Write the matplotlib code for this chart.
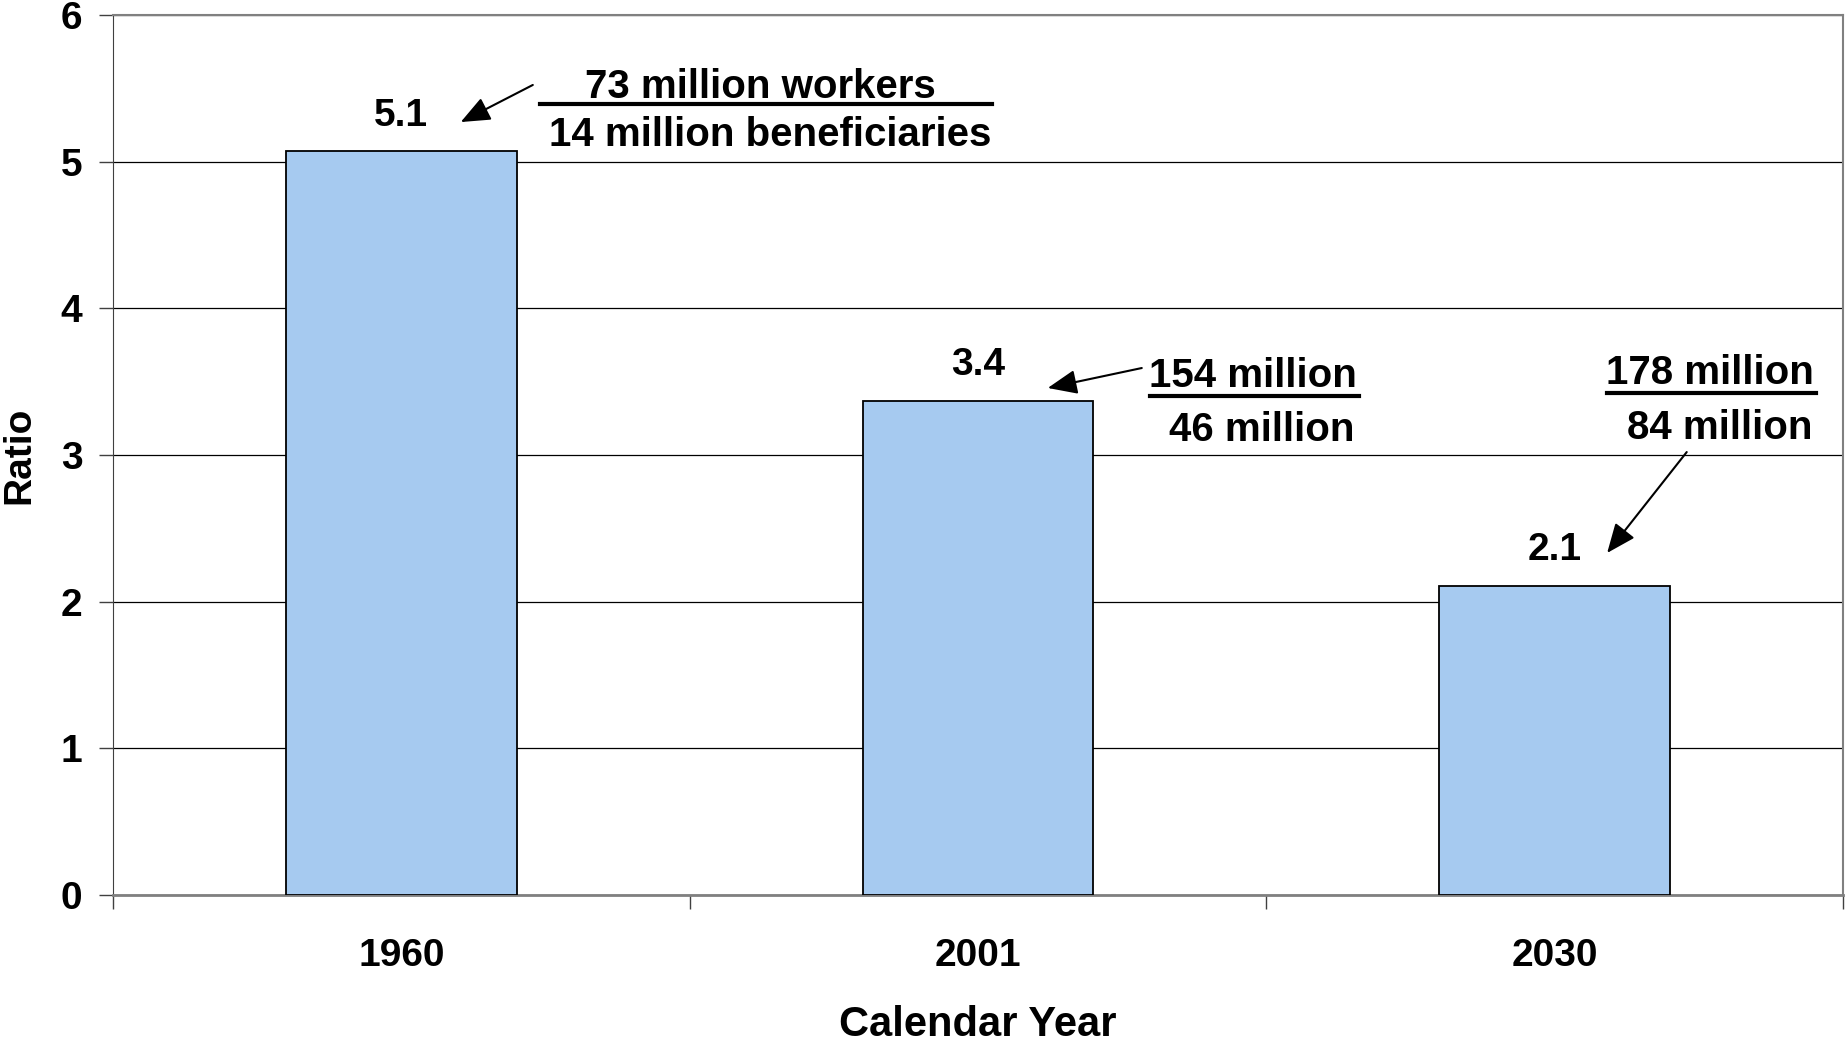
import matplotlib
matplotlib.use('Agg')
import matplotlib.pyplot as plt
import numpy as np

plt.rcParams['font.family'] = ['Liberation Sans', 'DejaVu Sans']
plt.rcParams['font.weight'] = 'bold'

# Data
years = ['1960', '2001', '2030']
ratio = [5.07, 3.37, 2.11]
workers = ['73 million workers', '154 million', '178 million']
beneficiaries = ['14 million beneficiaries', '46 million', '84 million']

x = np.arange(len(years))
fs = 28
fs_note = 29

fig = plt.figure(figsize=(18.45, 10.45), dpi=100)
ax = fig.add_axes([113/1845, 150/1045, 1730/1845, 880/1045])

ax.bar(x, ratio, width=0.4, color='#A6CAF0', edgecolor='black', linewidth=1.3, zorder=3)

# value labels above bars
for xi, v in zip(x, ratio):
    ax.annotate('%.1f' % v, (xi, v), xytext=(0, 25.5), textcoords='offset points',
                ha='center', va='center', fontsize=fs, fontweight='bold')

# axes
ax.set_xlim(-0.5, 2.5)
ax.set_ylim(0, 6)
ax.set_yticks(range(7))
ax.yaxis.grid(True, color='black', linewidth=0.9, zorder=0)
ax.set_xticks(x)
ax.set_xticklabels(years, fontsize=fs, fontweight='bold')
ax.set_xticks(np.arange(-0.5, 3, 1), minor=True)
ax.tick_params(axis='x', which='major', length=0, pad=31)
ax.tick_params(axis='x', which='minor', length=10, width=1, color='#404040')
ax.tick_params(axis='y', length=10, width=1, color='#404040', labelsize=fs, pad=12)
for lab in ax.get_yticklabels():
    lab.set_fontweight('bold')

ax.spines['left'].set_color('#404040')
ax.spines['bottom'].set_color('#808080')
ax.spines['bottom'].set_linewidth(2)
ax.spines['top'].set_color('#808080')
ax.spines['top'].set_linewidth(1.5)
ax.spines['right'].set_color('#808080')
ax.spines['right'].set_linewidth(1.5)

ax.set_xlabel('Calendar Year', fontsize=30, fontweight='bold', labelpad=22)
ax.set_ylabel('Ratio', fontsize=fs, fontweight='bold', labelpad=17)

# worker / beneficiary fractions with arrows
top_pos = [(0.622, 5.51), (1.477, 3.536), (2.269, 3.556)]
bot_pos = [(0.639, 5.18), (1.492, 3.168), (2.287, 3.181)]
bars_y = [5.39, 3.40, 3.42]
bars_x = [(0.240, 1.024), (1.298, 1.661), (2.091, 2.453)]
arrow_tail = [(0.228, 5.523), (1.284, 3.593), (2.229, 3.020)]
arrow_head = [(0.103, 5.270), (1.121, 3.457), (2.091, 2.332)]

for i in range(3):
    ax.text(*top_pos[i], workers[i], ha='center', va='center', fontsize=fs_note, fontweight='bold')
    ax.text(*bot_pos[i], beneficiaries[i], ha='center', va='center', fontsize=fs_note, fontweight='bold')
    ax.plot(bars_x[i], [bars_y[i], bars_y[i]], color='black', linewidth=3, clip_on=False, zorder=5)
    ax.annotate('', xy=arrow_head[i], xytext=arrow_tail[i],
                arrowprops=dict(arrowstyle='-|>,head_length=0.6,head_width=0.25',
                                color='black', lw=1.5, mutation_scale=30,
                                shrinkA=0, shrinkB=0))

fig.savefig('out.png', dpi=100)
